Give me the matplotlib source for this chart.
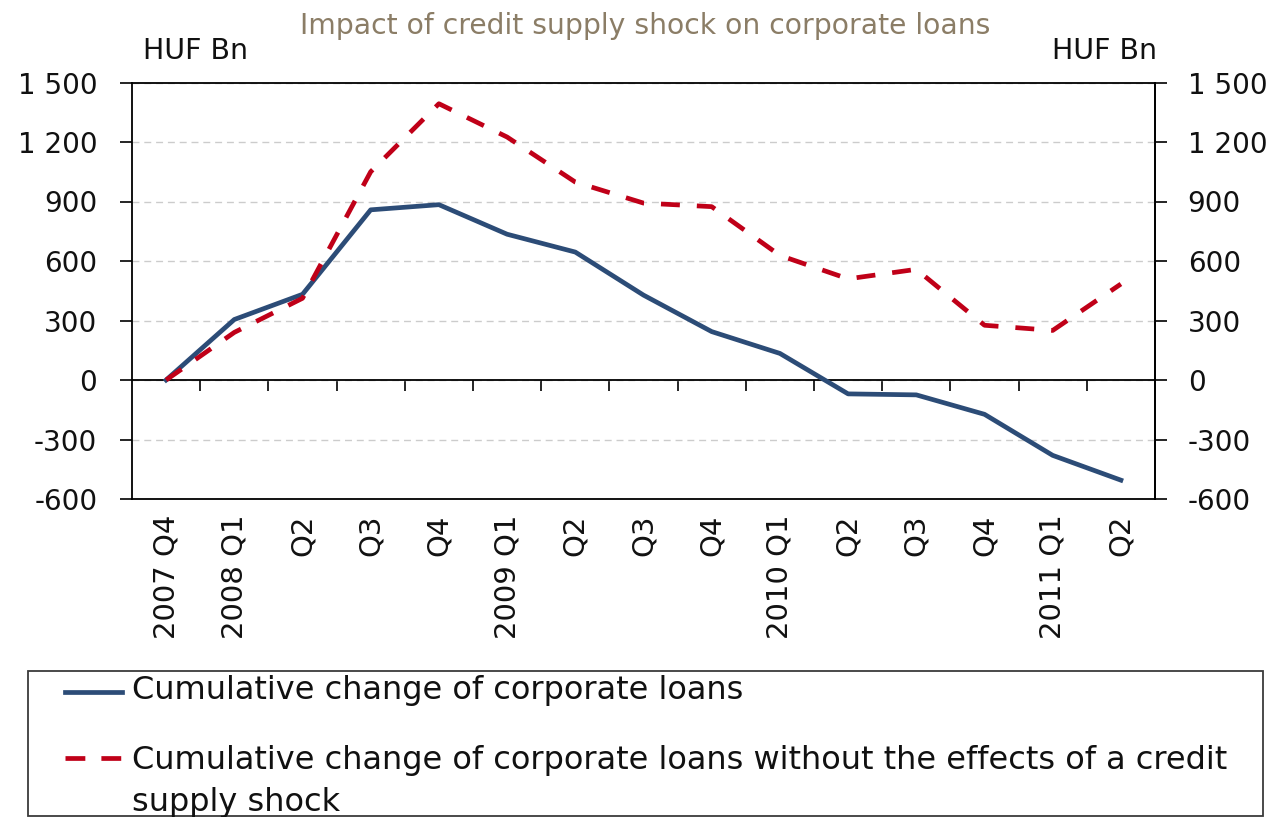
import matplotlib
matplotlib.use("Agg")
import matplotlib.pyplot as plt
from matplotlib.lines import Line2D
from matplotlib.patches import Rectangle
from matplotlib.ticker import FuncFormatter

# ---- data (HUF billions, cumulative change since 2007 Q4) ----
quarters = ["2007 Q4", "2008 Q1", "Q2", "Q3", "Q4", "2009 Q1", "Q2", "Q3", "Q4",
            "2010 Q1", "Q2", "Q3", "Q4", "2011 Q1", "Q2"]
actual_loans = [0, 305, 432, 858, 884, 735, 645, 428, 244, 134, -70, -75, -173, -380, -505]
no_shock_loans = [0, 240, 412, 1050, 1393, 1225, 998, 892, 874, 628, 510, 558, 276, 250, 484]
y_ticks = [-600, -300, 0, 300, 600, 900, 1200, 1500]

title = "Impact of credit supply shock on corporate loans"
unit = "HUF Bn"
legend_labels = [
    "Cumulative change of corporate loans",
    "Cumulative change of corporate loans without the effects of a credit\nsupply shock",
]

BLUE = "#2C4C77"
RED = "#C00018"
TITLE_COLOR = "#8B7D66"
TEXT = "#111111"
LW = 3.4

plt.rcParams["font.family"] = ["DejaVu Sans"]

W, H = 1278, 817
fig = plt.figure(figsize=(W / 100, H / 100), dpi=100)


def fx(px):
    return px / W


def fy(py):
    return 1 - py / H


# plot frame in pixel coordinates
left, right, top, bottom = 132, 1155, 82.5, 499
ax = fig.add_axes([fx(left), fy(bottom), (right - left) / W, (bottom - top) / H])

n = len(quarters)
x = list(range(n))
ax.set_xlim(-0.5, n - 0.5)
ax.set_ylim(min(y_ticks), max(y_ticks))

# horizontal dashed grid
ax.set_yticks(y_ticks)
ax.grid(axis="y", color="#cccccc", linestyle=(0, (5, 3.5)), linewidth=1.0, zorder=0)
ax.set_axisbelow(True)

fmt = FuncFormatter(lambda v, p: f"{int(v):,}".replace(",", " "))
ax.yaxis.set_major_formatter(fmt)
ax.tick_params(axis="y", direction="out", length=8.5, width=1.2, pad=16.5,
               labelsize=20, labelcolor=TEXT)

# category labels under the frame
ax.set_xticks(x)
ax.set_xticklabels(quarters, rotation=90, ha="center", va="top")
ax.tick_params(axis="x", length=0, pad=11, labelsize=21, labelcolor=TEXT)

for s in ax.spines.values():
    s.set_color("black")
    s.set_linewidth(1.3)

# solid zero line
ax.axhline(0, color="black", linewidth=1.3, zorder=2)

# tick marks between quarters hanging from the zero line
zero_axis = ax.secondary_xaxis(-min(y_ticks) / (max(y_ticks) - min(y_ticks)))
zero_axis.set_xticks([i + 0.5 for i in range(n - 1)])
zero_axis.xaxis.set_ticks_position("bottom")
zero_axis.tick_params(axis="x", direction="out", length=8, width=1.2,
                      labelbottom=False, labeltop=False)
for s in zero_axis.spines.values():
    s.set_visible(False)

# right-hand value axis
right_axis = ax.secondary_yaxis("right")
right_axis.set_yticks(y_ticks)
right_axis.yaxis.set_major_formatter(fmt)
right_axis.tick_params(axis="y", direction="out", length=8.5, width=1.2, pad=15,
                       labelsize=20, labelcolor=TEXT)
right_axis.spines["right"].set_linewidth(1.3)

# series
ax.plot(x, actual_loans, color=BLUE, linewidth=LW, zorder=3)
ax.plot(x, no_shock_loans, color=RED, linewidth=LW, dashes=(4.0, 3.6), zorder=4)

# titles and units
fig.text(fx(645), fy(26), title, ha="center", va="center", color=TITLE_COLOR, fontsize=20.3)
fig.text(fx(143), fy(51), unit, ha="left", va="center", color=TEXT, fontsize=20.5)
fig.text(fx(1157), fy(51), unit, ha="right", va="center", color=TEXT, fontsize=20.5)

# legend box
fig.add_artist(Rectangle((fx(28), fy(816)), (1263 - 28) / W, (816 - 671) / H,
                         transform=fig.transFigure, fill=False,
                         edgecolor="#3a3a3a", linewidth=1.3))
fig.add_artist(Line2D([fx(65), fx(122)], [fy(692), fy(692)], transform=fig.transFigure,
                      color=BLUE, linewidth=LW))
fig.add_artist(Line2D([fx(65), fx(122)], [fy(758), fy(758)], transform=fig.transFigure,
                      color=RED, linewidth=LW, dashes=(4.2, 3.4)))

line_y = [[690], [760, 803]]
for label, ys in zip(legend_labels, line_y):
    for part, yy in zip(label.split("\n"), ys):
        fig.text(fx(132), fy(yy), part, ha="left", va="center", color=TEXT, fontsize=23)

fig.savefig("out.png", dpi=100)
